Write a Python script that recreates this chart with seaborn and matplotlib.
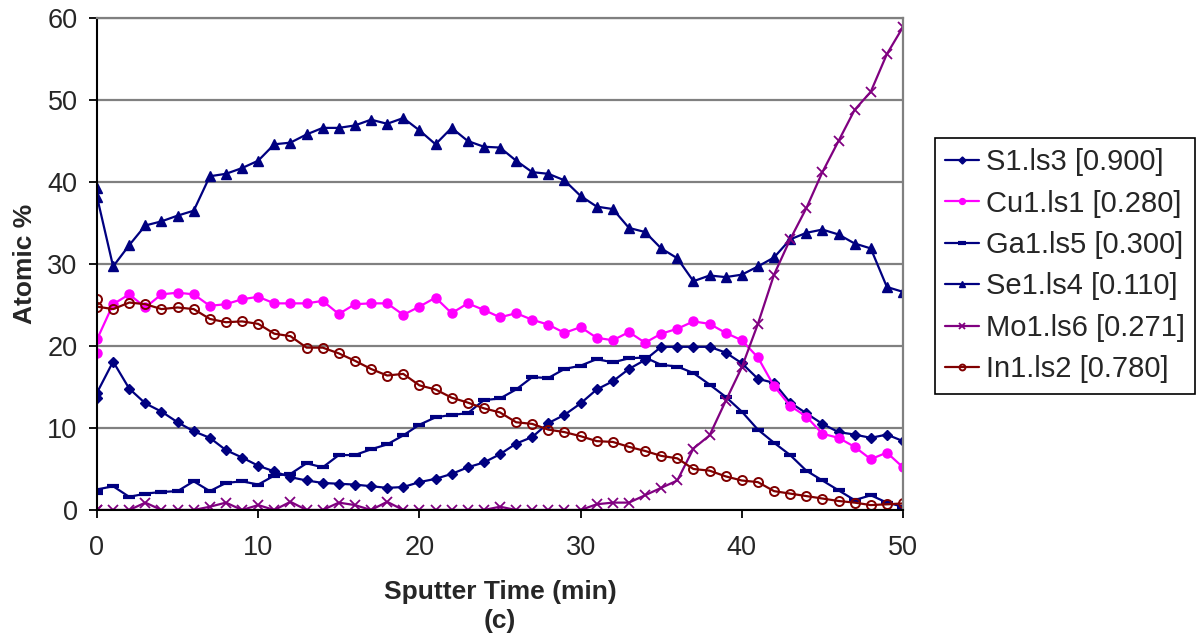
import pandas as pd
import matplotlib
matplotlib.use("Agg")
import matplotlib.pyplot as plt
import seaborn as sb

# Tiempo de sputter (min): dos lecturas en t=0, luego una por minuto
tiempo = [0] + list(range(0, 51))

s1 = [13.6, 14.3, 18.1, 14.8, 13.0, 12.0, 10.7, 9.6, 8.8, 7.3, 6.4, 5.4, 4.7, 4.0, 3.6, 3.3,
      3.2, 3.1, 2.9, 2.7, 2.8, 3.4, 3.8, 4.4, 5.2, 5.8, 6.8, 8.1, 8.9, 10.6, 11.6, 13.0, 14.7,
      15.7, 17.2, 18.3, 19.9, 19.9, 19.9, 19.9, 19.2, 17.9, 16.0, 15.5, 13.1, 11.8, 10.5, 9.5,
      9.2, 8.8, 9.2, 8.4]
cu1 = [19.2, 20.8, 25.1, 26.3, 24.7, 26.3, 26.5, 26.3, 24.9, 25.1, 25.7, 26.0, 25.2, 25.2,
       25.2, 25.5, 23.9, 25.1, 25.2, 25.2, 23.8, 24.8, 25.9, 24.0, 25.2, 24.4, 23.5, 24.0, 23.2,
       22.6, 21.6, 22.3, 21.0, 20.7, 21.7, 20.4, 21.5, 22.1, 23.0, 22.7, 21.6, 20.7, 18.6, 15.1,
       12.7, 11.4, 9.3, 8.8, 7.7, 6.2, 7.0, 5.2]
ga1 = [2.1, 2.5, 2.9, 1.6, 2.0, 2.2, 2.3, 3.5, 2.3, 3.3, 3.5, 3.1, 4.2, 4.4, 5.7, 5.2, 6.7,
       6.7, 7.4, 8.0, 9.1, 10.4, 11.3, 11.6, 11.8, 13.4, 13.6, 14.7, 16.2, 16.1, 17.2, 17.6,
       18.4, 18.0, 18.5, 18.6, 17.7, 17.5, 16.7, 15.3, 13.8, 12.0, 9.8, 8.2, 6.7, 4.8, 3.6,
       2.4, 1.2, 1.8, 0.9, 0.4]
se1 = [39.3, 38.2, 29.7, 32.3, 34.7, 35.2, 35.9, 36.5, 40.7, 41.0, 41.7, 42.6, 44.6, 44.8,
       45.8, 46.6, 46.6, 46.9, 47.6, 47.1, 47.8, 46.3, 44.6, 46.6, 45.0, 44.3, 44.2, 42.6, 41.2,
       41.0, 40.2, 38.3, 37.0, 36.7, 34.4, 33.9, 31.9, 30.7, 27.9, 28.6, 28.4, 28.7, 29.7, 30.8,
       33.0, 33.8, 34.2, 33.6, 32.5, 31.9, 27.2, 26.6]
mo1 = [0.0, 0.0, 0.0, 0.0, 0.9, 0.0, 0.0, 0.0, 0.4, 0.9, 0.0, 0.6, 0.0, 1.0, 0.0, 0.0, 0.9,
       0.6, 0.0, 1.0, 0.0, 0.0, 0.0, 0.0, 0.0, 0.0, 0.4, 0.0, 0.0, 0.0, 0.0, 0.0, 0.7, 0.9,
       0.9, 1.8, 2.7, 3.6, 7.5, 9.1, 13.3, 17.4, 22.7, 28.7, 33.0, 36.8, 41.2, 45.0, 48.8,
       51.0, 55.6, 58.9]
in1 = [25.7, 24.8, 24.5, 25.3, 25.1, 24.5, 24.7, 24.5, 23.3, 22.9, 23.0, 22.7, 21.5, 21.2,
       19.8, 19.8, 19.1, 18.2, 17.2, 16.4, 16.6, 15.2, 14.7, 13.7, 13.1, 12.4, 11.9, 10.7, 10.5,
       9.8, 9.5, 9.0, 8.4, 8.3, 7.7, 7.2, 6.6, 6.3, 5.0, 4.8, 4.1, 3.6, 3.4, 2.3, 2.0, 1.7, 1.4,
       1.1, 0.9, 0.6, 0.7, 0.8]

etiquetas = ["S1.ls3 [0.900]", "Cu1.ls1 [0.280]", "Ga1.ls5 [0.300]",
             "Se1.ls4 [0.110]", "Mo1.ls6 [0.271]", "In1.ls2 [0.780]"]
valores = [s1, cu1, ga1, se1, mo1, in1]

# estilo de cada serie (color, marcador, tamaño, relleno, grosor borde)
estilos = [
    dict(color="#000080", marker="D", markersize=5.5, mfc="#000080", mew=1),
    dict(color="#FF00FF", marker="o", markersize=6.5, mfc="#FF00FF", mew=1),
    dict(color="#000080", marker="_", markersize=8, mfc="#000080", mew=3),
    dict(color="#000080", marker="^", markersize=7.5, mfc="#000080", mew=1),
    dict(color="#800080", marker="x", markersize=6.5, mfc="#800080", mew=1.3),
    dict(color="#800000", marker="o", markersize=6.5, mfc="none", mew=1.4),
]

sb.set_style("white")
plt.rcParams["font.family"] = ["Liberation Sans", "DejaVu Sans"]

fig = plt.figure(figsize=(12.04, 6.41), dpi=100)
ax = fig.add_axes([97 / 1204, 1 - 510 / 641, 806 / 1204, 492 / 641])

for etiqueta, serie, est in zip(etiquetas, valores, estilos):
    df = pd.DataFrame({"t": tiempo, "v": serie})
    sb.lineplot(data=df, x="t", y="v", ax=ax, estimator=None, sort=False,
                color=est["color"], marker=est["marker"], markersize=est["markersize"],
                markerfacecolor=est["mfc"], markeredgecolor=est["color"],
                markeredgewidth=est["mew"], linewidth=1.6, label=etiqueta, clip_on=True)

ax.set_xlim(0, 50)
ax.set_ylim(0, 60)
ax.set_xticks(range(0, 51, 10))
ax.set_yticks(range(0, 61, 10))
ax.yaxis.grid(True, color="#808080", linewidth=1.6)
ax.xaxis.grid(False)
ax.set_axisbelow(True)
for lado in ["left", "bottom"]:
    ax.spines[lado].set_color("black")
    ax.spines[lado].set_linewidth(1.5)
for lado in ["right", "top"]:
    ax.spines[lado].set_color("#808080")
    ax.spines[lado].set_linewidth(1.6)
ax.tick_params(axis="both", direction="out", length=6, width=1.3, color="black",
               labelsize=19.5, left=True, bottom=True)
ax.tick_params(axis="y", pad=8)
ax.tick_params(axis="x", pad=12)

ax.set_xlabel("Sputter Time (min)\n(c)", fontsize=19, fontweight="bold", linespacing=1.25)
ax.xaxis.set_label_coords(0.5, -0.142)
ax.set_ylabel("Atomic %", fontsize=19, fontweight="bold")
ax.yaxis.set_label_coords(-0.075, 0.5)

leg = ax.legend(loc="upper left", bbox_to_anchor=(935 / 1204, 1 - 138 / 641),
                bbox_transform=fig.transFigure, borderaxespad=0, fontsize=21,
                frameon=True, fancybox=False, framealpha=1, edgecolor="black",
                handlelength=1.15, handletextpad=0.25, labelspacing=0.46,
                borderpad=0.35, markerscale=0.65)
leg.get_frame().set_linewidth(1.2)

fig.savefig("out.png", dpi=100)
